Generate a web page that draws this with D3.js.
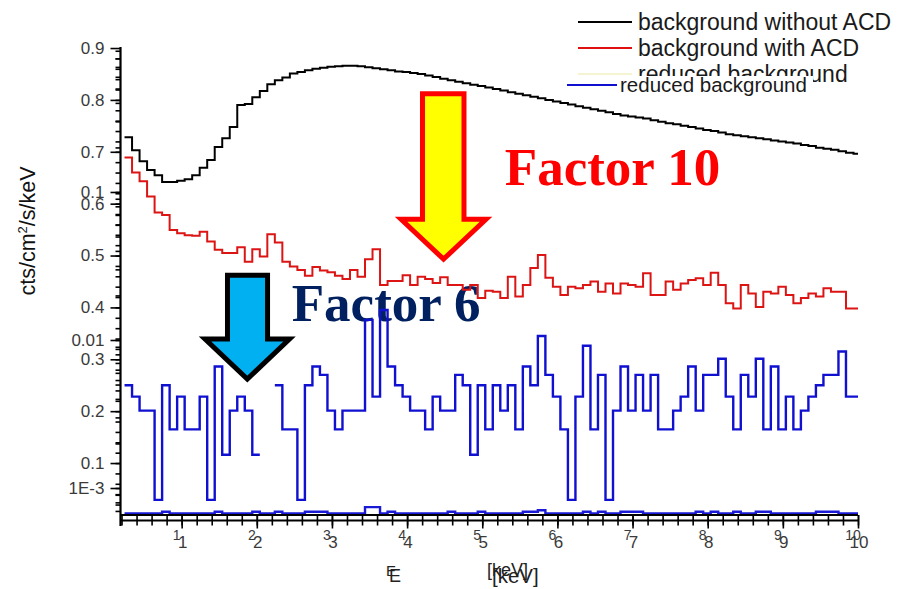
<!DOCTYPE html>
<html>
<head>
<meta charset="utf-8">
<script src="https://cdn.jsdelivr.net/npm/d3@7"></script>
<style>
  body { margin: 0; background: #fff; }
  svg { display: block; font-family: "Liberation Sans", Arial, sans-serif; }
</style>
</head>
<body>
<svg id="chart" width="900" height="589"></svg>
<script>
// histogram bins: 0.1 keV wide, first bin starts at 0.24 keV
const binStart = 0.24, binWidth = 0.1;

const noACD = [
  0.728, 0.703, 0.682, 0.665, 0.655, 0.642, 0.642, 0.644, 0.647, 0.655,
  0.669, 0.684, 0.709, 0.726, 0.748, 0.790, 0.792, 0.805, 0.817, 0.830,
  0.838, 0.843, 0.851, 0.854, 0.857, 0.860, 0.862, 0.864, 0.865, 0.866,
  0.866, 0.865, 0.863, 0.861, 0.859, 0.857, 0.855, 0.854, 0.852, 0.850,
  0.847, 0.844, 0.841, 0.838, 0.835, 0.832, 0.829, 0.827, 0.824, 0.821,
  0.818, 0.815, 0.812, 0.809, 0.806, 0.803, 0.800, 0.797, 0.794, 0.791,
  0.788, 0.785, 0.782, 0.779, 0.776, 0.773, 0.770, 0.768, 0.766, 0.764,
  0.761, 0.758, 0.755, 0.753, 0.750, 0.748, 0.745, 0.742, 0.740, 0.737,
  0.734, 0.732, 0.730, 0.728, 0.726, 0.724, 0.722, 0.720, 0.718, 0.716,
  0.713, 0.711, 0.708, 0.706, 0.704, 0.701, 0.698, 0.696
];

const withACD = [
  0.689, 0.660, 0.643, 0.614, 0.583, 0.578, 0.549, 0.543, 0.539, 0.538,
  0.546, 0.527, 0.511, 0.505, 0.505, 0.516, 0.488, 0.512, 0.498, 0.541,
  0.525, 0.488, 0.479, 0.472, 0.461, 0.478, 0.471, 0.468, 0.461, 0.455,
  0.472, 0.459, 0.493, 0.512, 0.443, 0.451, 0.451, 0.462, 0.443, 0.459,
  0.455, 0.447, 0.458, 0.443, 0.443, 0.434, 0.443, 0.418, 0.432, 0.430,
  0.418, 0.459, 0.421, 0.443, 0.476, 0.501, 0.457, 0.440, 0.424, 0.440,
  0.437, 0.443, 0.450, 0.430, 0.446, 0.427, 0.446, 0.443, 0.440, 0.466,
  0.424, 0.424, 0.450, 0.434, 0.446, 0.453, 0.456, 0.443, 0.467, 0.443,
  0.408, 0.398, 0.443, 0.427, 0.401, 0.430, 0.427, 0.440, 0.424, 0.408,
  0.418, 0.427, 0.421, 0.437, 0.430, 0.430, 0.398, 0.398, 0.443
];

// null = empty bin (not drawn)
const reduced = [
  0.250, 0.228, 0.201, 0.201, 0.029, 0.250, 0.165, 0.228, 0.165, 0.165,
  0.228, 0.029, 0.286, 0.116, 0.201, 0.228, 0.201, 0.116, null, null,
  0.250, 0.165, 0.165, 0.029, 0.250, 0.286, 0.270, 0.201, 0.165, 0.201,
  0.201, 0.201, 0.376, 0.228, 0.395, 0.286, 0.250, 0.228, 0.201, 0.201,
  0.165, 0.228, 0.201, 0.201, 0.270, 0.250, 0.116, 0.250, 0.165, 0.250,
  0.201, 0.250, 0.165, 0.286, 0.250, 0.345, 0.270, 0.228, 0.165, 0.029,
  0.228, 0.326, 0.165, 0.270, 0.029, 0.201, 0.286, 0.201, 0.270, 0.201,
  0.270, 0.165, 0.165, 0.201, 0.228, 0.286, 0.201, 0.270, 0.270, 0.301,
  0.228, 0.165, 0.270, 0.228, 0.301, 0.165, 0.286, 0.165, 0.228, 0.165,
  0.201, 0.228, 0.250, 0.270, 0.270, 0.315, 0.228, 0.228
];

const reducedLow = [
  0.003, 0.003, 0.003, 0.003, 0.003, 0.006, 0.003, 0.003, 0.003, 0.003,
  0.003, 0.003, 0.006, 0.003, 0.003, 0.003, 0.003, 0.006, 0.003, 0.003,
  0.006, 0.003, 0.003, 0.003, 0.006, 0.006, 0.006, 0.003, 0.003, 0.003,
  0.003, 0.003, 0.015, 0.015, 0.003, 0.006, 0.003, 0.003, 0.003, 0.003,
  0.003, 0.003, 0.003, 0.006, 0.003, 0.003, 0.003, 0.006, 0.003, 0.003,
  0.003, 0.003, 0.003, 0.006, 0.006, 0.009, 0.003, 0.003, 0.003, 0.003,
  0.003, 0.006, 0.003, 0.006, 0.003, 0.003, 0.006, 0.006, 0.006, 0.003,
  0.003, 0.003, 0.003, 0.003, 0.003, 0.003, 0.006, 0.003, 0.006, 0.003,
  0.003, 0.006, 0.003, 0.003, 0.006, 0.006, 0.003, 0.003, 0.003, 0.003,
  0.003, 0.003, 0.006, 0.006, 0.006, 0.003, 0.003, 0.003
];

const linTicks = [0.1, 0.2, 0.3, 0.4, 0.5, 0.6, 0.7, 0.8, 0.9];
const logTicks = [0.1, 0.01, 0.001];
const logTickLabels = ["0.1", "0.01", "1E-3"];
const xTicks = [1, 2, 3, 4, 5, 6, 7, 8, 9, 10];
const legendNames = ["background without ACD", "background with ACD", "reduced background"];
const overlayLegendName = "reduced background";

const svg = d3.select("#chart");

const x = d3.scaleLinear().domain([0, 10]).range([106.5, 858]);
const yLin = d3.scaleLinear().domain([-0.004, 0.902]).range([517, 47]);
const yLog = d3.scaleLog().domain([6.37e-4, 0.954]).range([517, 47]);

const xLeft = 120.5;

svg.append("defs").append("clipPath").attr("id", "plotClip")
  .append("rect")
  .attr("x", xLeft).attr("y", 30)
  .attr("width", x(10) - xLeft).attr("height", 500);

// annotation texts (under the lines)
svg.append("text")
  .attr("x", x(5.3)).attr("y", yLin(0.636))
  .attr("font-family", "'Liberation Serif', 'Times New Roman', serif")
  .attr("font-weight", "bold").attr("font-size", 53)
  .attr("fill", "#ff0000")
  .text("Factor 10");

svg.append("text")
  .attr("x", x(2.465)).attr("y", yLin(0.374))
  .attr("font-family", "'Liberation Serif', 'Times New Roman', serif")
  .attr("font-weight", "bold").attr("font-size", 53)
  .attr("fill", "#002060")
  .text("Factor 6");

// step histogram lines
function stepPoints(vals) {
  const pts = [];
  vals.forEach(function (v, i) {
    const x0 = binStart + i * binWidth;
    pts.push({e: x0, v: v});
    pts.push({e: x0 + binWidth, v: v});
  });
  return pts;
}

const line = d3.line()
  .defined(function (d) { return d.v !== null; })
  .x(function (d) { return x(d.e); })
  .y(function (d) { return yLin(d.v); });

const series = [
  {vals: reducedLow, color: "#1a1ad6", width: 2.4},
  {vals: reduced, color: "#1010d0", width: 2.4},
  {vals: withACD, color: "#dc1414", width: 2},
  {vals: noACD, color: "#000000", width: 2}
];

const plot = svg.append("g").attr("clip-path", "url(#plotClip)");
plot.selectAll("path.hist")
  .data(series)
  .enter().append("path")
  .attr("class", "hist")
  .attr("fill", "none")
  .attr("stroke", function (d) { return d.color; })
  .attr("stroke-width", function (d) { return d.width; })
  .attr("stroke-linejoin", "miter")
  .attr("d", function (d) { return line(stepPoints(d.vals)); });

// arrows
function arrow(shaft0, shaft1, top, headY, head0, head1, tipX, tipY) {
  return [
    [x(shaft0), yLin(top)], [x(shaft1), yLin(top)], [x(shaft1), yLin(headY)],
    [x(head1), yLin(headY)], [x(tipX), yLin(tipY)], [x(head0), yLin(headY)],
    [x(shaft0), yLin(headY)]
  ].map(function (p) { return p.join(","); }).join(" ");
}

svg.append("polygon")
  .attr("points", arrow(4.205, 4.757, 0.812, 0.570, 3.92, 5.05, 4.485, 0.493))
  .attr("fill", "#ffff00").attr("stroke", "#ff0000").attr("stroke-width", 5);

svg.append("polygon")
  .attr("points", arrow(1.610, 2.143, 0.462, 0.339, 1.311, 2.435, 1.874, 0.262))
  .attr("fill", "#00b0f0").attr("stroke", "#000000").attr("stroke-width", 5);

// y axes: linear labels and log labels share the same line
const tickColor = "#3a3a3a";
function styleAxis(g) {
  g.select(".domain").remove();
  g.selectAll(".tick line").attr("stroke", "#000").attr("stroke-width", 1.6);
  g.selectAll(".tick text").attr("fill", tickColor).attr("font-size", 17)
    .attr("font-family", "'Liberation Sans', Arial, sans-serif");
}

const linMinor = d3.range(0.02, 0.9, 0.02);
svg.append("g").attr("transform", "translate(" + xLeft + ",0)")
  .call(d3.axisLeft(yLin).tickValues(linMinor).tickSize(5).tickFormat(""))
  .call(styleAxis);

svg.append("g").attr("transform", "translate(" + xLeft + ",0)")
  .call(d3.axisLeft(yLog).tickValues(yLog.ticks()).tickSize(5).tickFormat(""))
  .call(styleAxis);

svg.append("g").attr("transform", "translate(" + xLeft + ",0)")
  .call(d3.axisLeft(yLin).tickValues(linTicks).tickSize(10).tickPadding(6)
    .tickFormat(d3.format(".1f")))
  .call(styleAxis);

svg.append("g").attr("transform", "translate(" + xLeft + ",0)")
  .call(d3.axisLeft(yLog).tickValues(logTicks).tickSize(10).tickPadding(6)
    .tickFormat(function (d, i) { return logTickLabels[i]; }))
  .call(styleAxis);

svg.append("line")
  .attr("x1", xLeft).attr("x2", xLeft).attr("y1", 47).attr("y2", 526)
  .attr("stroke", "#000").attr("stroke-width", 2.2);

// two stacked x axes (the figure is an overlay of two plots)
const xMinor = d3.range(0.2, 10.01, 0.2);
[515, 520.5].forEach(function (yy, k) {
  svg.append("g").attr("transform", "translate(0," + yy + ")")
    .call(d3.axisBottom(x).tickValues(xMinor).tickSize(5).tickFormat(""))
    .call(styleAxis);
  svg.append("g").attr("transform", "translate(0," + yy + ")")
    .call(d3.axisBottom(x).tickValues(xTicks).tickSize(k ? 8 : 6).tickFormat(""))
    .call(styleAxis);
  svg.append("line")
    .attr("x1", xLeft).attr("x2", x(10)).attr("y1", yy).attr("y2", yy)
    .attr("stroke", "#000").attr("stroke-width", 1.8);
});

const xLab = svg.append("g");
xLab.selectAll("text.small")
  .data(xTicks).enter().append("text")
  .attr("x", function (d) { return x(d) - 5; })
  .attr("y", 540)
  .attr("text-anchor", "middle")
  .attr("font-size", 14).attr("fill", tickColor)
  .text(function (d) { return d; });
xLab.selectAll("text.big")
  .data(xTicks).enter().append("text")
  .attr("x", function (d) { return x(d) + 1; })
  .attr("y", 548)
  .attr("text-anchor", "middle")
  .attr("font-size", 17).attr("fill", tickColor)
  .text(function (d) { return d; });

// axis titles
[[386, 576, 15], [389, 582, 18]].forEach(function (p) {
  svg.append("text").attr("x", p[0]).attr("y", p[1])
    .attr("font-size", p[2]).attr("fill", "#222").text("E");
});
[[487, 576, 18], [492, 583, 20.5]].forEach(function (p) {
  svg.append("text").attr("x", p[0]).attr("y", p[1])
    .attr("font-size", p[2]).attr("fill", "#222").text("[keV]");
});

const yTitle = svg.append("text")
  .attr("transform", "translate(35,231) rotate(-90)")
  .attr("text-anchor", "middle")
  .attr("font-size", 21.5).attr("fill", "#111");
yTitle.append("tspan").text("cts/cm");
yTitle.append("tspan").attr("font-size", 13).attr("dy", -8).text("2");
yTitle.append("tspan").attr("dy", 8).text("/s/keV");

// legend (first plot); the third sample line is hidden under the overlay box
const legColors = ["#000000", "#e01010", "#f4f4d0"];
const leg = svg.append("g");
legendNames.forEach(function (name, i) {
  const yy = 22 + i * 26;
  leg.append("line")
    .attr("x1", 578).attr("x2", 632).attr("y1", yy).attr("y2", yy)
    .attr("stroke", legColors[i]).attr("stroke-width", 2);
  leg.append("text")
    .attr("x", 638).attr("y", yy + 7.5)
    .attr("font-size", 23).attr("fill", "#1a1a1a")
    .text(name);
});

// overlay legend box from the second plot
svg.append("rect")
  .attr("x", 560).attr("y", 76).attr("width", 253).attr("height", 21)
  .attr("fill", "#fff");
svg.append("line")
  .attr("x1", 567).attr("x2", 617).attr("y1", 85).attr("y2", 85)
  .attr("stroke", "#1010d0").attr("stroke-width", 2);
svg.append("text")
  .attr("x", 620).attr("y", 92)
  .attr("font-size", 20.5).attr("fill", "#1a1a1a")
  .text(overlayLegendName);
</script>
</body>
</html>
